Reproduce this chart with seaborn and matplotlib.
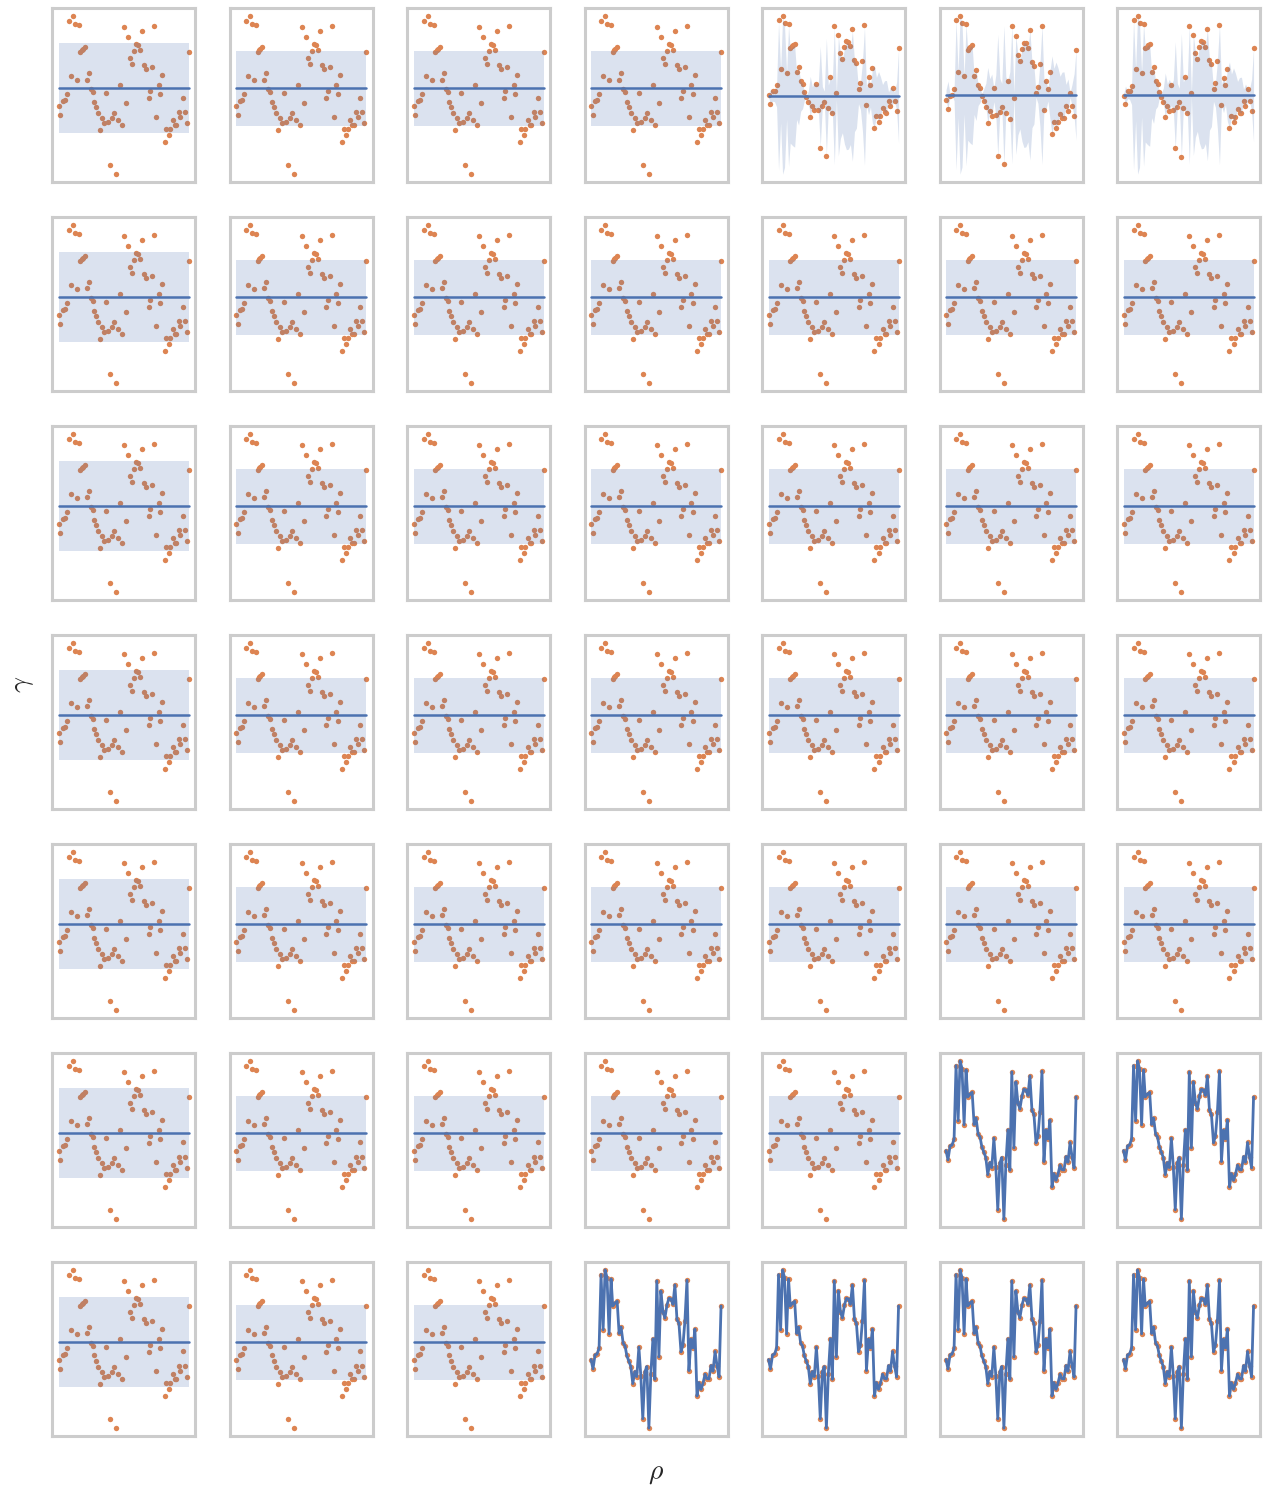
import numpy as np
import pandas as pd
import matplotlib
matplotlib.use("Agg")
import matplotlib.pyplot as plt
import seaborn as sns

# Observations (same sample shown in every panel)
x_obs = [0.000, 0.015, 0.031, 0.046, 0.062, 0.077, 0.093, 0.108, 0.123, 0.139,
         0.154, 0.167, 0.177, 0.188, 0.201, 0.216, 0.231, 0.247, 0.262, 0.275,
         0.290, 0.306, 0.321, 0.337, 0.352, 0.368, 0.383, 0.398, 0.414, 0.429,
         0.445, 0.460, 0.476, 0.491, 0.506, 0.522, 0.537, 0.553, 0.568, 0.584,
         0.599, 0.614, 0.630, 0.645, 0.661, 0.676, 0.692, 0.707, 0.722, 0.738,
         0.753, 0.769, 0.784, 0.799, 0.815, 0.830, 0.846, 0.861, 0.877, 0.892,
         0.907, 0.923, 0.938, 0.954, 0.969, 0.985, 1.000]
y_obs = [-0.50, -0.78, -0.36, -0.34, -0.16, 2.04, 0.39, 2.18, 1.95, 0.27,
         1.91, 1.10, 1.15, 1.20, 1.24, 0.28, 0.47, -0.01, -0.10, -0.38,
         -0.54, -0.71, -1.22, -0.86, -1.01, -0.13, -0.99, -2.27, -0.87, -0.71,
         -2.55, -0.92, 0.12, -1.09, 1.85, -0.42, 1.55, 0.93, 0.74, 1.13,
         1.33, 1.31, 1.15, 1.73, 0.70, 0.58, -0.27, -0.07, 0.65, 1.87,
         -0.83, 0.11, -0.15, 0.41, -1.59, -1.19, -1.39, -1.21, -0.94, -1.07,
         -1.08, -0.68, -0.85, -0.26, -0.68, -1.02, 1.10]

# Fit type for each (gamma row, rho column) combination
fit_kind = [
    ["flat", "flat", "flat", "flat", "wild", "wild", "wild"],
    ["flat", "flat", "flat", "flat", "flat", "flat", "flat"],
    ["flat", "flat", "flat", "flat", "flat", "flat", "flat"],
    ["flat", "flat", "flat", "flat", "flat", "flat", "flat"],
    ["flat", "flat", "flat", "flat", "flat", "flat", "flat"],
    ["flat", "flat", "flat", "flat", "flat", "interp", "interp"],
    ["flat", "flat", "flat", "interp", "interp", "interp", "interp"],
]
# Predictive half-width of the flat fits, per rho column
flat_halfwidth = [1.35, 1.12, 1.12, 1.12, 1.12, 1.12, 1.12]
# Mean level and spread factor of the unstable fits, per rho column
wild_mean = {4: -0.53, 5: -0.34, 6: -0.48}
wild_spread = {4: 0.97, 5: 1.00, 6: 1.00}

df = pd.DataFrame({"x": x_obs, "y": y_obs})
x = df["x"].to_numpy()
y = df["y"].to_numpy()

sns.set_theme(style="whitegrid", rc={
    "axes.grid": False,
    "axes.edgecolor": ".8",
    "axes.linewidth": 2.2,
})
plt.rcParams["mathtext.fontset"] = "cm"

blue, orange = sns.color_palette("deep")[0], sns.color_palette("deep")[1]

fig, axes = plt.subplots(7, 7, figsize=(12.66, 14.91), dpi=100)
fig.subplots_adjust(left=0.0411, right=0.9953, bottom=0.0369, top=0.9946,
                    wspace=0.241, hspace=0.201)

for r in range(7):
    for c in range(7):
        ax = axes[r, c]
        kind = fit_kind[r][c]
        sns.scatterplot(data=df, x="x", y="y", ax=ax, color=orange, s=15,
                        linewidth=0, zorder=2, legend=False)
        if kind == "flat":
            mu = np.full_like(x, y.mean())
            half = flat_halfwidth[c]
            ax.fill_between(x, mu - half, mu + half, color=blue, alpha=0.2,
                            linewidth=0, zorder=3)
            lw = 1.8
        elif kind == "wild":
            mu = np.full_like(x, wild_mean[c])
            half = wild_spread[c] * np.abs(y - wild_mean[c])
            ax.fill_between(x, mu - half, mu + half, color=blue, alpha=0.2,
                            linewidth=0, zorder=3)
            lw = 1.8
        else:
            mu = y.copy()
            lw = 2.0
        ax.plot(x, mu, color=blue, lw=lw, zorder=4)
        ax.set_xticks([])
        ax.set_yticks([])
        ax.set_xlabel("")
        ax.set_ylabel("")

fig.text(0.5182, 1 - 1472 / 1491, r"$\rho$", ha="center", va="center",
         fontsize=20)
fig.text(22 / 1266, 1 - 684 / 1491, r"$\gamma$", ha="center", va="center",
         rotation=90, fontsize=20)

fig.savefig("out.png", dpi=100)
